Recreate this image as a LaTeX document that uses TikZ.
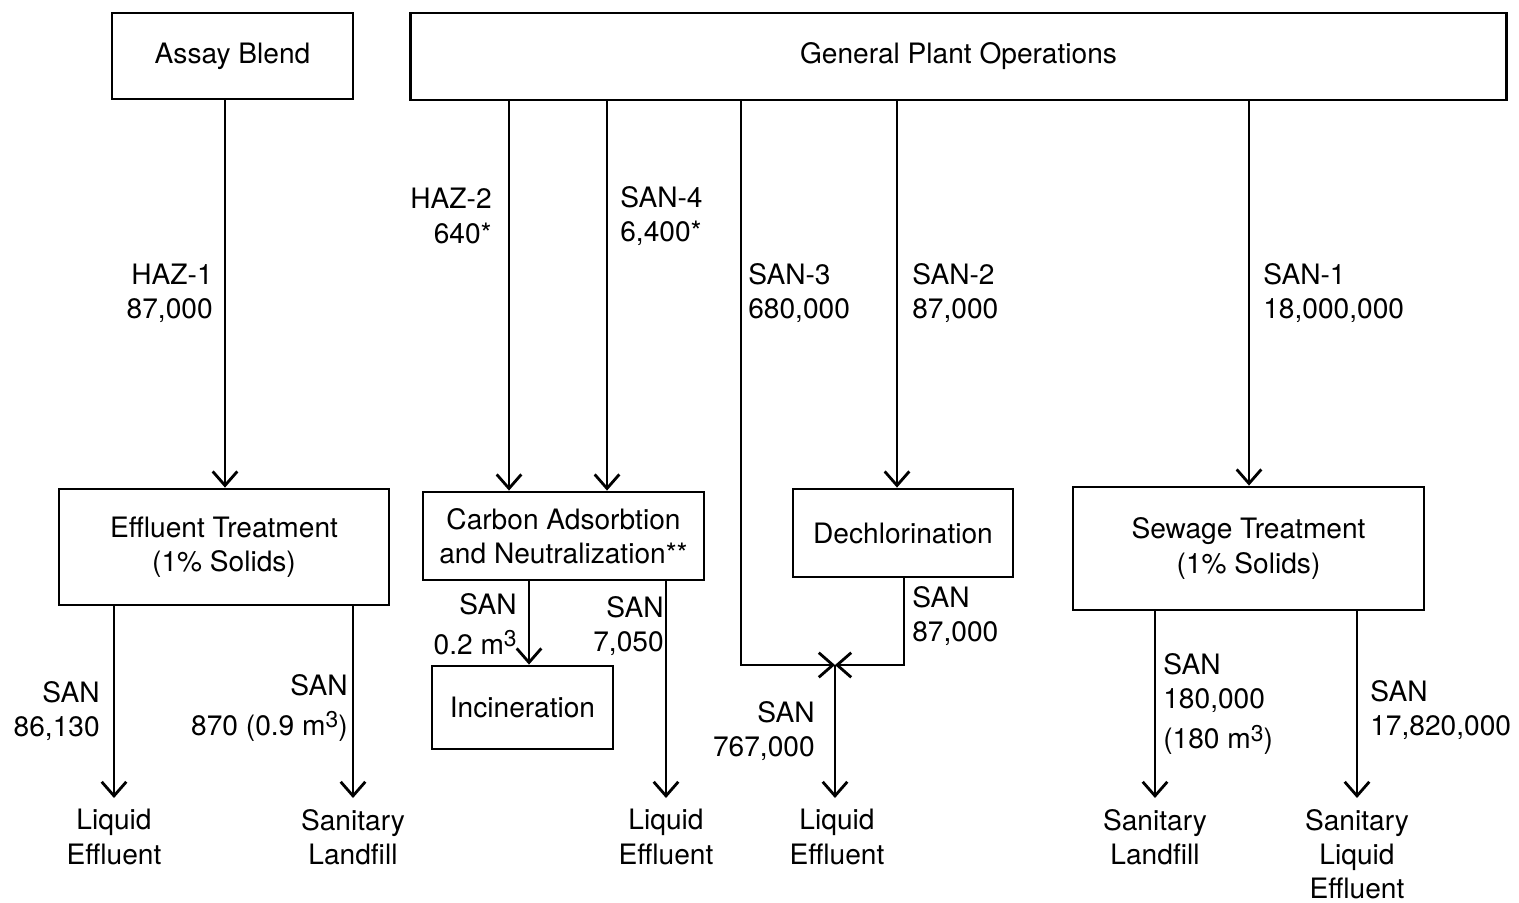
\documentclass[tikz,border=0pt]{standalone}
\usepackage{fontspec}
\setmainfont{TeX Gyre Heros}
\usepackage{tikz}
\usetikzlibrary{arrows.meta}
\usetikzlibrary{positioning}
\tikzset{box/.style = {draw, line width=1.6pt, inner sep=0pt, align=center}}
\tikzset{flow/.style = {line width=1.6pt,
                        -{Straight Barb[length=8pt,width=14pt]}}}
\tikzset{lbl/.style = {inner sep=0pt}}
\tikzset{sink/.style = {inner xsep=0pt, inner ysep=0.22cm, anchor=north, align=center}}
\newcommand{\cubic}{\raisebox{0.5ex}{\fontsize{13}{13}\selectfont 3}}

\begin{document}
\begin{tikzpicture}[x=0.02cm, y=-0.02cm,
    every node/.style={font=\fontsize{16}{19.5}\selectfont}]
      \useasboundingbox (0,0) rectangle (1519,903);

      % sources
      \node [box, minimum width=4.82cm, minimum height=1.72cm] (ab) at (232.5,56) {Assay Blend};
      \node [box, minimum width=21.94cm, minimum height=1.74cm] (gpo) at (958.5,56.5) {General Plant Operations};

      % treatment
      \node [box, minimum width=6.6cm, minimum height=2.32cm] (et) at (224,547) {Effluent Treatment\\(1\% Solids)};
      \node [box, minimum width=5.62cm, minimum height=1.76cm] (ca) at (563.5,536) {Carbon Adsorbtion\\and Neutralization**};
      \node [box, minimum width=3.62cm, minimum height=1.66cm] (inc) at (522.5,707.5) {Incineration};
      \node [box, minimum width=4.4cm, minimum height=1.76cm] (dc) at (903,533) {Dechlorination};
      \node [box, minimum width=7.02cm, minimum height=2.46cm] (st) at (1248.5,548.5) {Sewage Treatment\\(1\% Solids)};

      % outlets
      \node [sink] (le1) at (114,798) {Liquid\\Effluent};
      \node [sink] (sl1) at (353,798) {Sanitary\\Landfill};
      \node [sink] (le2) at (666,798) {Liquid\\Effluent};
      \node [sink] (le3) at (837,798) {Liquid\\Effluent};
      \node [sink] (sl2) at (1155,798) {Sanitary\\Landfill};
      \node [sink] (sle) at (1357,798) {Sanitary\\Liquid\\Effluent};
      \coordinate (jn) at (835,665);

      % streams from the top
      \draw [flow] (ab.south -| 225,0) -- (et.north -| 225,0);
      \draw [flow] (gpo.south -| 509,0) -- (ca.north -| 509,0);
      \draw [flow] (gpo.south -| 607,0) -- (ca.north -| 607,0);
      \draw [flow] (gpo.south -| 741,0) |- (jn);
      \draw [flow] (gpo.south -| 897,0) -- (dc.north -| 897,0);
      \draw [flow] (gpo.south -| 1249,0) -- (st.north -| 1249,0);

      % streams to the bottom
      \draw [flow] (et.south -| le1.north) -- (le1.north);
      \draw [flow] (et.south -| sl1.north) -- (sl1.north);
      \draw [flow] (ca.south -| 529,0) -- (inc.north -| 529,0);
      \draw [flow] (ca.south -| le2.north) -- (le2.north);
      \draw [flow] (dc.south -| 904,0) |- (jn);
      \draw [flow] (jn) -- (le3.north -| jn);
      \draw [flow] (st.south -| sl2.north) -- (sl2.north);
      \draw [flow] (st.south -| sle.north) -- (sle.north);

      % labels
      \node [lbl, anchor=east, align=right] (haz1) at (213,293) {HAZ-1\\87,000};
      \node [lbl, anchor=east, align=right] (haz2) at (492,216) {HAZ-2\\640*};
      \node [lbl, anchor=west, align=left] (san4) at (620,216) {SAN-4\\6,400*};
      \node [lbl, anchor=west, align=left] (san3) at (748,293) {SAN-3\\680,000};
      \node [lbl, anchor=west, align=left] (san2) at (912,293) {SAN-2\\87,000};
      \node [lbl, anchor=west, align=left] (san1) at (1263,293) {SAN-1\\18,000,000};
      \node [lbl, anchor=east, align=right] (o1) at (100,711) {SAN\\86,130};
      \node [lbl, anchor=east, align=right] (o2) at (348,708) {SAN\\[3pt]870 (0.9 m\cubic)};
      \node [lbl, anchor=east, align=right] (o3) at (517,624) {SAN\\[3pt]0.2 m\cubic};
      \node [lbl, anchor=east, align=right] (o4) at (664,626) {SAN\\7,050};
      \node [lbl, anchor=west, align=left] (o5) at (912,616) {SAN\\87,000};
      \node [lbl, anchor=east, align=right] (o6) at (815,731) {SAN\\767,000};
      \node [lbl, anchor=west, align=left] (o7) at (1163,704) {SAN\\180,000\\[3pt](180 m\cubic)};
      \node [lbl, anchor=west, align=left] (o8) at (1370,710) {SAN\\17,820,000};
\end{tikzpicture}
\end{document}
